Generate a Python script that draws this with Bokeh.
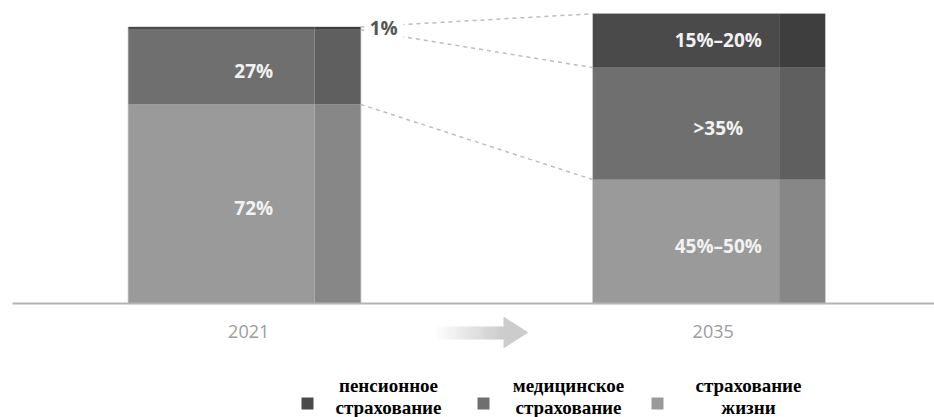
from bokeh.plotting import figure
from bokeh.models import Range1d
from bokeh.core.properties import value
from bokeh.embed import file_html
from bokeh.resources import INLINE

# ---------------- data ----------------
years = ["2021", "2035"]
life = [72, 44.8]          # страхование жизни
medical = [27, 40.5]       # медицинское страхование
pension = [1, 19.5]        # пенсионное страхование
life_labels = ["72%", "45%–50%"]
medical_labels = ["27%", ">35%"]
pension_labels = ["1%", "15%–20%"]
legend_names = [["пенсионное", "страхование"],
                ["медицинское", "страхование"],
                ["страхование", "жизни"]]

# ---------------- layout helpers ----------------
W, H = 934, 417
PXX, X0 = 464.5, 244.0     # px per x unit, px of first bar centre
PXY, Y0 = 2.765, 303.0     # px per y unit, px of baseline


def X(px):
    return (px - X0) / PXX


def Y(py):
    return (Y0 - py) / PXY


p = figure(width=W, height=H, output_backend="svg", toolbar_location=None,
           x_range=Range1d(X(0), X(W)), y_range=Range1d(Y(H), Y(0)),
           min_border=0, outline_line_color=None)
p.axis.visible = False
p.grid.visible = False
p.background_fill_color = "white"
p.border_fill_color = "white"

pos = list(range(len(years)))
bw = 0.5
side = 0.099

series = [
    ("life", life, "#9a9a9a", "#878787"),
    ("medical", medical, "#6f6f6f", "#5f5f5f"),
    ("pension", pension, "#4a4a4a", "#3e3e3e"),
]

# outlines
totals = [a + b + c for a, b, c in zip(life, medical, pension)]
p.quad(left=[x - bw / 2 for x in pos], right=[x + bw / 2 for x in pos],
       bottom=[0] * len(pos), top=totals, fill_color=None,
       line_color="#d4d4d4", line_width=1.5)

bottom = [0.0] * len(pos)
for name, vals, main_c, side_c in series:
    top = [b + v for b, v in zip(bottom, vals)]
    p.quad(left=[x - bw / 2 for x in pos], right=[x + bw / 2 - side for x in pos],
           bottom=bottom, top=top, fill_color=main_c, line_color=None)
    p.quad(left=[x + bw / 2 - side for x in pos], right=[x + bw / 2 for x in pos],
           bottom=bottom, top=top, fill_color=side_c, line_color=None)
    bottom = top

# dashed connectors
cum_life = life
cum_med = [a + b for a, b in zip(life, medical)]
p.segment(x0=[pos[0] + bw / 2] * 3, x1=[pos[1] - bw / 2] * 3,
          y0=[totals[0], cum_med[0], cum_life[0]],
          y1=[totals[1], cum_med[1], cum_life[1]],
          line_color="#bdbdbd", line_width=1.5, line_dash="4 4")

# in-bar labels
lab_font = value("Open Sans")
lx = [x + 0.02 for x in pos]
p.text(x=lx, y=[v / 2 - 1.5 for v in life], text=life_labels,
       text_color="#f2f2f2", text_font=lab_font, text_font_style="bold",
       text_font_size="19px", text_align="center", text_baseline="middle")
p.text(x=lx, y=[l + m / 2 - 1.5 for l, m in zip(life, medical)], text=medical_labels,
       text_color="#f2f2f2", text_font=lab_font, text_font_style="bold",
       text_font_size="19px", text_align="center", text_baseline="middle")
p.text(x=lx[1:], y=[cum_med[1] + pension[1] / 2 + 0.3], text=pension_labels[1:],
       text_color="#f2f2f2", text_font=lab_font, text_font_style="bold",
       text_font_size="19px", text_align="center", text_baseline="middle")

# small outside label for 2021 pension
p.quad(left=[X(364)], right=[X(403)], bottom=[Y(40)], top=[Y(14)],
       fill_color="white", line_color=None)
p.text(x=[pos[0] + bw / 2 + X(369) - X(360)], y=[totals[0] - 0.3], text=pension_labels[:1],
       text_color="#555555", text_font=lab_font, text_font_style="bold",
       text_font_size="19px", text_align="left", text_baseline="middle")

# baseline
p.segment(x0=[X(12)], x1=[X(W)], y0=[0], y1=[0], line_color="#b4b4b4", line_width=2)

# year labels
p.text(x=[x + 0.009 for x in pos], y=[Y(331)] * len(pos), text=years,
       text_color="#9c9c9c", text_font=lab_font, text_font_size="18px",
       text_align="center", text_baseline="middle")

# gradient arrow
n = 24
sx0, sx1 = 436, 503
for i in range(n):
    g = int(255 - (255 - 204) * (i + 1) / n)
    col = "#%02x%02x%02x" % (g, g, g)
    p.quad(left=[X(sx0 + (sx1 - sx0) * i / n)], right=[X(sx0 + (sx1 - sx0) * (i + 1) / n) + 0.001],
           bottom=[Y(339)], top=[Y(326)], fill_color=col, line_color=None)
p.patch(x=[X(503), X(528), X(503)], y=[Y(316), Y(332), Y(348)],
        fill_color="#cccccc", line_color=None)

# legend
sq_px = [307, 483, 657]
txt_px = [388, 568, 748]
sq_cols = ["#4a4a4a", "#6f6f6f", "#9a9a9a"]
p.quad(left=[X(c - 6) for c in sq_px], right=[X(c + 6) for c in sq_px],
       bottom=[Y(409)] * 3, top=[Y(397)] * 3, fill_color=sq_cols, line_color=None)
leg_font = value("Liberation Serif")
p.text(x=[X(c) for c in txt_px], y=[Y(385)] * 3, text=[n_[0] for n_ in legend_names],
       text_color="#000000", text_font=leg_font, text_font_style="bold",
       text_font_size="19px", text_align="center", text_baseline="middle")
p.text(x=[X(c) for c in txt_px], y=[Y(407)] * 3, text=[n_[1] for n_ in legend_names],
       text_color="#000000", text_font=leg_font, text_font_style="bold",
       text_font_size="19px", text_align="center", text_baseline="middle")

open("out.html", "w").write(file_html(p, INLINE))
